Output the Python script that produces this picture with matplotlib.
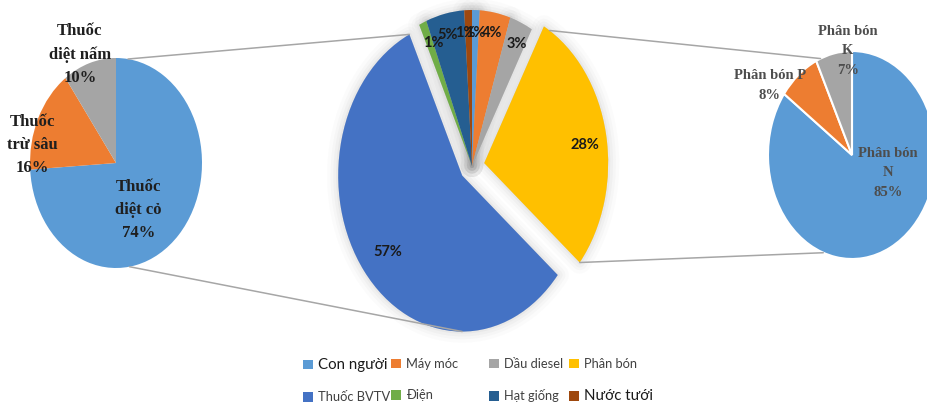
import numpy as np
import matplotlib
matplotlib.use('Agg')
from matplotlib import pyplot as plt
from matplotlib.patches import ConnectionPatch

plt.rcParams['font.family'] = ['Lato', 'DejaVu Sans']

# main pie
main_labels = ['Con người', 'Máy móc', 'Dầu diesel', 'Phân bón',
               'Thuốc BVTV', 'Điện', 'Hạt giống', 'Nước tưới']
main_values = [1, 4, 3, 28, 57, 1, 5, 1]
main_colors = ['#5B9BD5', '#ED7D31', '#A5A5A5', '#FFC000',
               '#4472C4', '#70AD47', '#255E91', '#9E480E']

# pesticide breakdown (left)
pest_labels = ['Thuốc\ndiệt cỏ', 'Thuốc\ntrừ sâu', 'Thuốc\ndiệt nấm']
pest_values = [74, 16, 10]

# fertilizer breakdown (right)
fert_labels = ['Phân bón\nN', 'Phân bón P', 'Phân bón\nK']
fert_values = [85, 8, 7]

side_colors = ['#5B9BD5', '#ED7D31', '#A5A5A5']

W, H = 928, 403
fig = plt.figure(figsize=(W / 100, H / 100), dpi=100)
fig.patch.set_facecolor('white')


def make_ax(cx, cy, rx, ry, m):
    # axes placed so that a unit pie becomes an ellipse with radii rx, ry (pixels)
    return fig.add_axes([(cx - m * rx) / W, (H - cy - m * ry) / H,
                         2 * m * rx / W, 2 * m * ry / H])


def fix(ax, m):
    ax.set_aspect('auto')
    ax.set_xlim(-m, m)
    ax.set_ylim(-m, m)
    ax.axis('off')


# ---- middle pie ----
ax_m = make_ax(472, 166, 124, 156, 1.3)
explode = [0, 0, 0, 0.1, 0.1, 0, 0, 0]
# soft glow behind the pie
for lw, a in [(16, 0.025), (11, 0.035), (7, 0.045), (3, 0.06)]:
    ax_m.pie(main_values, explode=explode, startangle=90, counterclock=False,
             colors=['#707070'] * 8,
             wedgeprops=dict(linewidth=lw, edgecolor='#707070', alpha=a,
                             joinstyle='round'))
wedges, _ = ax_m.pie(main_values, explode=explode, startangle=90,
                     counterclock=False, colors=main_colors,
                     wedgeprops=dict(linewidth=0))
fix(ax_m, 1.3)

main_pos = [(0.025, 0.85), (0.165, 0.85), (0.36, 0.78), (0.91, 0.135),
            (-0.68, -0.55), (-0.31, 0.79), (-0.2, 0.84), (-0.055, 0.85)]
for v, (x, y) in zip(main_values, main_pos):
    ax_m.text(x, y, f'{v}%', ha='center', va='center', fontsize=10.5,
              fontweight='bold', color='#1a1a1a')

# ---- left pie ----
ax_l = make_ax(116, 163, 86, 105, 1.2)
ax_l.pie(pest_values, startangle=90, counterclock=False, colors=side_colors,
         wedgeprops=dict(linewidth=0))
fix(ax_l, 1.2)
pest_pos = [(0.26, -0.45), (-0.97, 0.17), (-0.42, 1.03)]
for lab, v, (x, y) in zip(pest_labels, pest_values, pest_pos):
    ax_l.text(x, y, f'{lab}\n{v}%', ha='center', va='center', fontsize=12,
              fontweight='bold', family='Liberation Serif', color='#1f1f1f',
              linespacing=1.6)

# ---- right pie ----
ax_r = make_ax(852, 155, 84, 104, 1.2)
ax_r.pie(fert_values, startangle=90, counterclock=False, colors=side_colors,
         wedgeprops=dict(linewidth=1.5, edgecolor='white'))
fix(ax_r, 1.2)
fert_pos = [(0.43, -0.17), (-0.98, 0.67), (-0.05, 1.0)]
for lab, v, (x, y) in zip(fert_labels, fert_values, fert_pos):
    ax_r.text(x, y, f'{lab}\n{v}%', ha='center', va='center', fontsize=10.5,
              fontweight='bold', family='Liberation Serif', color='#4d4d4d',
              linespacing=1.65)


# ---- connector lines ----
def rim(ang):
    t = np.deg2rad(ang)
    return (np.cos(t), np.sin(t))


def corner(w, ang):
    t = np.deg2rad(ang)
    return (w.center[0] + w.r * np.cos(t), w.center[1] + w.r * np.sin(t))


bvtv = wedges[4]
pbon = wedges[3]
links = [
    (corner(bvtv, bvtv.theta1), ax_l, rim(82)),
    (corner(bvtv, -90), ax_l, rim(-81)),
    (corner(pbon, pbon.theta2 - 3), ax_r, rim(112)),
    (corner(pbon, pbon.theta1), ax_r, rim(250)),
]
for pa, ax_o, pb in links:
    con = ConnectionPatch(xyA=pa, coordsA=ax_m.transData, xyB=pb,
                          coordsB=ax_o.transData, color='#a6a6a6', lw=1.1)
    fig.add_artist(con)

# ---- legend: 2 rows x 4 columns, one small legend per column ----
col_x = [303, 391, 489, 569]
for c, x0 in enumerate(col_x):
    idx = [c, c + 4]
    leg = fig.legend([wedges[i] for i in idx], [main_labels[i] for i in idx],
                     loc='upper left', bbox_to_anchor=(x0 / W, 1 - 358 / H),
                     frameon=False, fontsize=9.3, handlelength=0.75,
                     handleheight=0.75, handletextpad=0.45,
                     labelspacing=1.5, borderpad=0, borderaxespad=0)
    for t in leg.get_texts():
        t.set_color('#404040')
        if t.get_text() in ('Con người', 'Nước tưới'):
            t.set_fontsize(10.8)
            t.set_color('#1a1a1a')

fig.savefig('out.png', dpi=100, facecolor='white')
